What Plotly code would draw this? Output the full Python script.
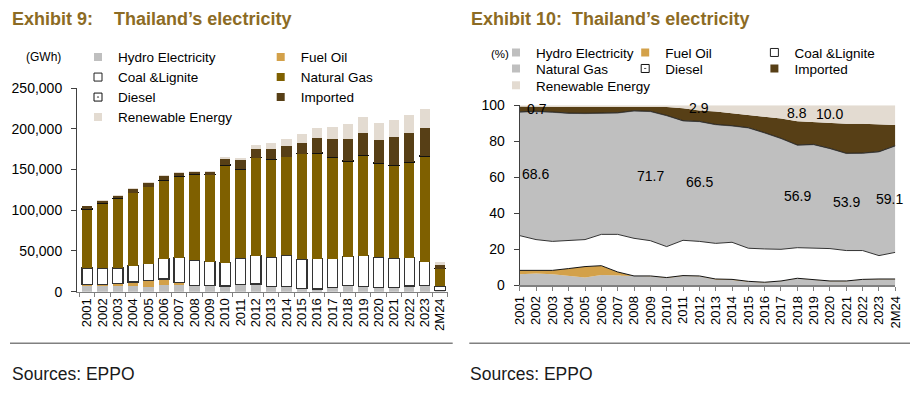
import plotly.graph_objects as go

W, H = 916, 395

years = ["2001", "2002", "2003", "2004", "2005", "2006", "2007", "2008", "2009", "2010",
         "2011", "2012", "2013", "2014", "2015", "2016", "2017", "2018", "2019", "2020",
         "2021", "2022", "2023", "2M24"]

# ---- Exhibit 9: generation by fuel (GWh) ----
hydro_gwh = [6400, 7300, 7300, 6600, 5900, 8200, 8000, 7400, 7400, 6800, 8600, 9000,
             5800, 5600, 3900, 3000, 4700, 7800, 6200, 4800, 4900, 6900, 7600, 1200]
fuel_gwh = [2300, 2000, 2600, 5200, 8100, 7400, 2900, 300, 300, 300, 300, 400,
            500, 600, 400, 400, 200, 200, 200, 200, 200, 200, 200, 40]
coal_gwh = [20400, 19200, 19200, 19900, 20300, 24900, 30800, 31000, 29100, 28400, 32200, 34700,
            36000, 38500, 35600, 37200, 35600, 35000, 37700, 37400, 35700, 34700, 29200, 5400]
gas_gwh = [72400, 79600, 85300, 89500, 94500, 96000, 99400, 105000, 106500, 120000, 109100, 120000,
           119900, 120800, 129300, 129400, 124500, 117200, 123100, 115200, 113700, 117200, 129300, 21600]
diesel_gwh = [200, 200, 200, 300, 300, 300, 300, 300, 300, 300, 300, 400,
              400, 400, 400, 400, 400, 400, 400, 400, 400, 400, 400, 50]
imported_gwh = [3100, 2700, 3200, 4200, 4600, 4900, 4600, 3300, 3700, 7600, 11200, 10800,
                12900, 12900, 13500, 17900, 22100, 27200, 26800, 28800, 34600, 35400, 33700, 4200]
renewable_gwh = [700, 1000, 1200, 1300, 1400, 1400, 1500, 1200, 1200, 1700, 2800, 5200,
                 6400, 8200, 10400, 12700, 15000, 18100, 19700, 20800, 21500, 22100, 24000, 4000]

# ---- Exhibit 10: share by fuel (%) ----
hydro_pct = [6.1, 6.5, 6.1, 5.2, 4.4, 5.7, 5.4, 5.0, 5.0, 4.1, 5.2, 5.0,
             3.2, 3.0, 2.0, 1.5, 2.3, 3.8, 2.9, 2.3, 2.3, 3.2, 3.4, 3.4]
fuel_pct = [2.2, 1.8, 2.2, 4.1, 6.0, 5.2, 2.0, 0.2, 0.2, 0.2, 0.2, 0.2,
            0.3, 0.3, 0.2, 0.2, 0.1, 0.1, 0.1, 0.1, 0.1, 0.1, 0.1, 0.1]
coal_pct = [19.3, 17.1, 16.1, 15.7, 15.0, 17.4, 20.9, 20.9, 19.6, 17.2, 19.6, 19.2,
            19.8, 20.6, 18.4, 18.5, 17.6, 17.0, 17.6, 18.0, 16.9, 16.0, 13.0, 14.8]
gas_pct = [68.6, 71.1, 71.7, 70.5, 70.0, 67.1, 67.4, 70.7, 71.7, 72.7, 66.3, 66.5,
           65.9, 64.6, 66.8, 64.4, 61.5, 56.9, 57.5, 55.5, 53.9, 54.0, 57.6, 59.1]
diesel_pct = [0.2, 0.2, 0.2, 0.2, 0.2, 0.2, 0.2, 0.2, 0.2, 0.2, 0.2, 0.2,
              0.2, 0.2, 0.2, 0.2, 0.2, 0.2, 0.2, 0.2, 0.2, 0.2, 0.2, 0.2]
imported_pct = [2.9, 2.4, 2.7, 3.3, 3.4, 3.4, 3.1, 2.2, 2.5, 4.6, 6.8, 6.0,
                7.1, 6.9, 7.0, 8.9, 10.9, 13.2, 12.5, 13.9, 16.4, 16.3, 15.0, 11.4]
renewable_pct = [0.7, 0.9, 1.0, 1.0, 1.0, 1.0, 1.0, 0.8, 0.8, 1.0, 1.7, 2.9,
                 3.5, 4.4, 5.4, 6.3, 7.4, 8.8, 9.2, 10.0, 10.2, 10.2, 10.7, 11.0]

gas_label_idx = [0, 8, 11, 17, 20, 23]
ren_label_idx = [0, 11, 17, 19]

left_yticks = [0, 50000, 100000, 150000, 200000, 250000]
right_yticks = [0, 20, 40, 60, 80, 100]

# ---- styling ----
FONT = "Liberation Sans"
C_GRAY = "#BFBFBF"
C_FUEL = "#D3A14A"
C_GAS = "#7F6000"
C_IMP = "#573F16"
C_REN = "#E3DBD1"
C_TITLE = "#8C6B24"


def px(x):
    return x / W


def py(y):
    return (H - y) / H


fig = go.Figure()

left_series = [
    ("Hydro Electricity", hydro_gwh, dict(color=C_GRAY, line=dict(width=0))),
    ("Fuel Oil", fuel_gwh, dict(color=C_FUEL, line=dict(width=0))),
    ("Coal &Lignite", coal_gwh, dict(color="#FFFFFF", line=dict(color="#333333", width=1.2))),
    ("Natural Gas", gas_gwh, dict(color=C_GAS, line=dict(width=0))),
    ("Diesel", diesel_gwh, dict(color="#FFFFFF", line=dict(color="#111111", width=1),
                                pattern=dict(shape=".", fgcolor="#000000", size=4, solidity=0.3))),
    ("Imported", imported_gwh, dict(color=C_IMP, line=dict(width=0))),
    ("Renewable Energy", renewable_gwh, dict(color=C_REN, line=dict(width=0))),
]
for name, vals, marker in left_series:
    fig.add_trace(go.Bar(x=years, y=vals, name=name, marker=marker, showlegend=False,
                         xaxis="x", yaxis="y", hoverinfo="skip"))

right_series = [
    ("Hydro Electricity", hydro_pct, C_GRAY, dict(width=0)),
    ("Fuel Oil", fuel_pct, C_FUEL, dict(color="#111111", width=1)),
    ("Coal &Lignite", coal_pct, "#FFFFFF", dict(color="#333333", width=1)),
    ("Natural Gas", gas_pct, C_GRAY, dict(color="#444444", width=0.6)),
    ("Diesel", diesel_pct, "#222222", dict(color="#222222", width=0.8)),
    ("Imported", imported_pct, C_IMP, dict(width=0)),
    ("Renewable Energy", renewable_pct, C_REN, dict(width=0)),
]
for name, vals, fc, line in right_series:
    fig.add_trace(go.Scatter(x=years, y=vals, name=name, mode="lines", stackgroup="pct",
                             fillcolor=fc, line=line, showlegend=False,
                             xaxis="x2", yaxis="y2", hoverinfo="skip"))


# small square legend swatches, as in the reference
def swatch(color, outline=None, symbol="square"):
    if outline:
        return dict(symbol=symbol, size=8, color=color, line=dict(color=outline, width=1))
    return dict(symbol=symbol, size=8, color=color, line=dict(width=0))


SW = {
    "Hydro Electricity": swatch(C_GRAY),
    "Fuel Oil": swatch(C_FUEL),
    "Coal &Lignite": swatch("#FFFFFF", "#222222"),
    "Natural Gas L": swatch(C_GAS),
    "Natural Gas R": swatch(C_GRAY),
    "Diesel": swatch("#FFFFFF", "#111111", "square-dot"),
    "Imported": swatch(C_IMP),
    "Renewable Energy": swatch(C_REN),
}

left_legend = [("Hydro Electricity", "Hydro Electricity", "legend"), ("Fuel Oil", "Fuel Oil", "legend"),
               ("Coal &Lignite", "Coal &Lignite", "legend2"), ("Natural Gas", "Natural Gas L", "legend2"),
               ("Diesel", "Diesel", "legend3"), ("Imported", "Imported", "legend3"),
               ("Renewable Energy", "Renewable Energy", "legend4")]
right_legend = [("Hydro Electricity", "Hydro Electricity", "legend5"), ("Fuel Oil", "Fuel Oil", "legend5"),
                ("Coal &Lignite", "Coal &Lignite", "legend5"), ("Natural Gas", "Natural Gas R", "legend6"),
                ("Diesel", "Diesel", "legend6"), ("Imported", "Imported", "legend6"),
                ("Renewable Energy", "Renewable Energy", "legend7")]
for entries, xa, ya in [(left_legend, "x", "y"), (right_legend, "x2", "y2")]:
    for name, key, lg in entries:
        fig.add_trace(go.Scatter(x=[None], y=[None], mode="markers", name=name, marker=SW[key],
                                 legend=lg, xaxis=xa, yaxis=ya, hoverinfo="skip"))

# ---- annotations ----
ann = []
n = len(years)
for i in gas_label_idx:
    base = hydro_pct[i] + fuel_pct[i] + coal_pct[i]
    xs = 16 if i == 0 else (-6 if i == n - 1 else 0)
    ann.append(dict(x=i, y=base + gas_pct[i] / 2, xref="x2", yref="y2",
                    text=f"{gas_pct[i]:.1f}", showarrow=False, xshift=xs,
                    font=dict(family=FONT, size=14, color="#000000")))
for i in ren_label_idx:
    xs = 17 if i == 0 else 0
    ys = -3 if i == 0 else 0
    ann.append(dict(x=i, y=100 - renewable_pct[i] / 2, xref="x2", yref="y2",
                    text=f"{renewable_pct[i]:.1f}", showarrow=False, xshift=xs, yshift=ys,
                    font=dict(family=FONT, size=14, color="#000000")))

title_font = dict(family=FONT, size=18, color=C_TITLE, weight="bold")
for txt, x in [("Exhibit 9:", 9.5), ("Thailand\u2019s electricity", 112),
               ("Exhibit 10:", 468.5), ("Thailand\u2019s electricity", 570)]:
    ann.append(dict(x=px(x), y=py(19), xref="paper", yref="paper", xanchor="left", yanchor="middle",
                    text=txt, showarrow=False, font=title_font))

ann.append(dict(x=px(63), y=py(57), xref="paper", yref="paper", xanchor="right", yanchor="middle",
                text="(GWh)", showarrow=False, font=dict(family=FONT, size=12, color="#000000")))
ann.append(dict(x=px(511), y=py(54.5), xref="paper", yref="paper", xanchor="right", yanchor="middle",
                text="(%)", showarrow=False, font=dict(family=FONT, size=11.5, color="#000000")))
for x in [10, 468]:
    ann.append(dict(x=px(x), y=py(374), xref="paper", yref="paper", xanchor="left", yanchor="middle",
                    text="Sources: EPPO", showarrow=False, font=dict(family=FONT, size=17.5, color="#1A1A1A")))

shapes = [
    dict(type="line", xref="paper", yref="paper", x0=px(10), x1=px(452.7), y0=py(343.3), y1=py(343.3),
         line=dict(color="#808080", width=1.5)),
    dict(type="line", xref="paper", yref="paper", x0=px(469.3), x1=px(910), y0=py(343.3), y1=py(343.3),
         line=dict(color="#808080", width=1.5)),
]

tick_font = dict(family=FONT, size=14, color="#000000")
xtick_font = dict(family=FONT, size=13, color="#000000")


def legend_row(x_left, y_center, entry):
    return dict(orientation="h", x=px(x_left), y=py(y_center), xanchor="left", yanchor="middle",
                traceorder="normal", bgcolor="rgba(0,0,0,0)", borderwidth=0,
                entrywidth=entry, entrywidthmode="pixels", itemsizing="trace",
                font=dict(family=FONT, size=13.5, color="#000000"), itemclick=False, itemdoubleclick=False)


LEFT_E = 137.7
RIGHT_E = 84.2
fig.update_layout(
    width=W, height=H, margin=dict(l=0, r=0, t=0, b=0, autoexpand=False),
    paper_bgcolor="#FFFFFF", plot_bgcolor="rgba(0,0,0,0)",
    barmode="stack", bargap=0.33,
    annotations=ann, shapes=shapes,
    legend=legend_row(78, 57.3, LEFT_E),
    legend2=legend_row(78, 77.3, LEFT_E),
    legend3=legend_row(78, 97.3, LEFT_E),
    legend4=legend_row(78, 117.3, LEFT_E),
    legend5=legend_row(496, 52.7, RIGHT_E),
    legend6=legend_row(496, 68.7, RIGHT_E),
    legend7=legend_row(496, 85.5, 160),
    xaxis=dict(domain=[px(77), px(447.7)], range=[-0.66, 23.5], type="category",
               tickmode="linear", tick0=0, dtick=1,
               tickangle=-90, tickfont=xtick_font, ticks="outside", ticklen=4, tickcolor="#808080",
               tickson="boundaries", showline=True, linecolor="#808080", linewidth=1.5,
               showgrid=False, zeroline=False, fixedrange=True, anchor="y", automargin=False),
    yaxis=dict(domain=[py(291.7), py(88)], range=[0, 250000], tickvals=left_yticks,
               tickformat=",", tickfont=tick_font, ticks="outside", ticklen=5, tickcolor="#404040",
               ticklabelstandoff=6, showline=True, linecolor="#404040", linewidth=1,
               showgrid=False, zeroline=False, fixedrange=True, anchor="x", automargin=False),
    xaxis2=dict(domain=[px(519.7), px(895.3)], range=[0, 23], type="category",
                tickmode="linear", tick0=0, dtick=1,
                tickangle=-90, tickfont=xtick_font, ticks="outside", ticklen=4, tickcolor="#808080",
                showline=True, linecolor="#808080", linewidth=1.5,
                showgrid=False, zeroline=False, fixedrange=True, anchor="y2", automargin=False),
    yaxis2=dict(domain=[py(285.3), py(105.3)], range=[0, 100], tickvals=right_yticks,
                tickfont=tick_font, ticks="outside", ticklen=5, tickcolor="#404040",
                ticklabelstandoff=6, showline=True, linecolor="#404040", linewidth=1,
                showgrid=False, zeroline=False, fixedrange=True, anchor="x2", automargin=False),
)

fig.write_html(
    "out.html",
    config=dict(displayModeBar=False, staticPlot=True),
    post_script="document.body.style.margin='0px';document.body.style.overflow='hidden';",
)
